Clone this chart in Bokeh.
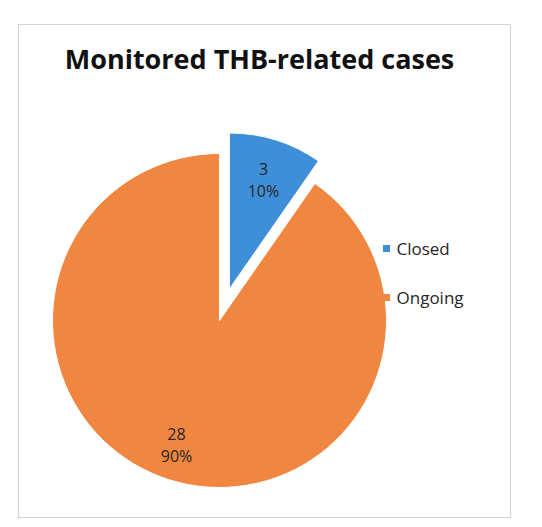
import math
from bokeh.plotting import figure
from bokeh.models import Range1d, ColumnDataSource
from bokeh.core.properties import value
from bokeh.embed import file_html
from bokeh.resources import INLINE

# ---- data ----
title = "Monitored THB-related cases"
categories = ["Closed", "Ongoing"]
counts = [3, 28]
colors = ["#3f8fd8", "#f08640"]

# ---- layout (page pixels) ----
W, H = 540, 525

def Y(py):
    return H - py

cx, cy = 219, 320          # pie centre (page px)
R = 167                    # radius of pie
R_EXPL = 156               # radius of exploded slice
EXPLODE = 33               # explosion distance
LABEL_FRAC = [0.73, 0.78]
LABEL_DX = [0, -4]

p = figure(width=W, height=H, output_backend="svg", toolbar_location=None,
           x_range=Range1d(0, W), y_range=Range1d(0, H),
           min_border=0)
p.axis.visible = False
p.grid.visible = False
p.outline_line_color = None
p.background_fill_color = "white"
p.border_fill_color = "white"

# chart frame
p.quad(left=[18], right=[510], top=[Y(24)], bottom=[Y(517)],
       fill_color="white", line_color="#d4d4d4", line_width=1.2)

total = sum(counts)
pct = [round(100 * c / total) for c in counts]

# slices: start at 12 o'clock, going clockwise
xs, ys, rs, starts, ends = [], [], [], [], []
lx, ly = [], []
cum = 0.0
for i, c in enumerate(counts):
    a0 = math.pi / 2 - 2 * math.pi * cum / total
    cum += c
    a1 = math.pi / 2 - 2 * math.pi * cum / total
    mid = (a0 + a1) / 2
    if i == 0:
        ox = cx + EXPLODE * math.cos(mid)
        oy = Y(cy) + EXPLODE * math.sin(mid)
        r = R_EXPL
    else:
        ox, oy, r = cx, Y(cy), R
    xs.append(ox); ys.append(oy); rs.append(r)
    starts.append(a1); ends.append(a0)
    lx.append(ox + LABEL_FRAC[i] * r * math.cos(mid) + LABEL_DX[i])
    ly.append(oy + LABEL_FRAC[i] * r * math.sin(mid))

src = ColumnDataSource(dict(x=xs, y=ys, r=rs, s=starts, e=ends, color=colors))
p.wedge(x="x", y="y", radius="r", start_angle="s", end_angle="e",
        fill_color="color", line_color="white", line_width=1, source=src)

# data labels
p.text(x=lx, y=[v + 11 for v in ly], text=[str(c) for c in counts],
       text_font=value("Open Sans"), text_font_size="16px", text_color="#262626",
       text_align="center", text_baseline="middle")
p.text(x=lx, y=[v - 11 for v in ly], text=[f"{q}%" for q in pct],
       text_font=value("Open Sans"), text_font_size="16px", text_color="#262626",
       text_align="center", text_baseline="middle")

# title
p.text(x=[259], y=[Y(58)], text=[title], text_font=value("Open Sans"),
       text_font_size="27px", text_font_style="bold", text_color="#111111",
       text_align="center", text_baseline="middle")

# legend
leg_y = [Y(248), Y(297)]
p.scatter(x=[386, 386], y=leg_y, marker="square", size=7,
          fill_color=colors, line_color=None)
p.text(x=[396, 396], y=leg_y, text=categories, text_font=value("Open Sans"),
       text_font_size="17px", text_color="#262626",
       text_align="left", text_baseline="middle")

open("out.html", "w").write(file_html(p, INLINE))
